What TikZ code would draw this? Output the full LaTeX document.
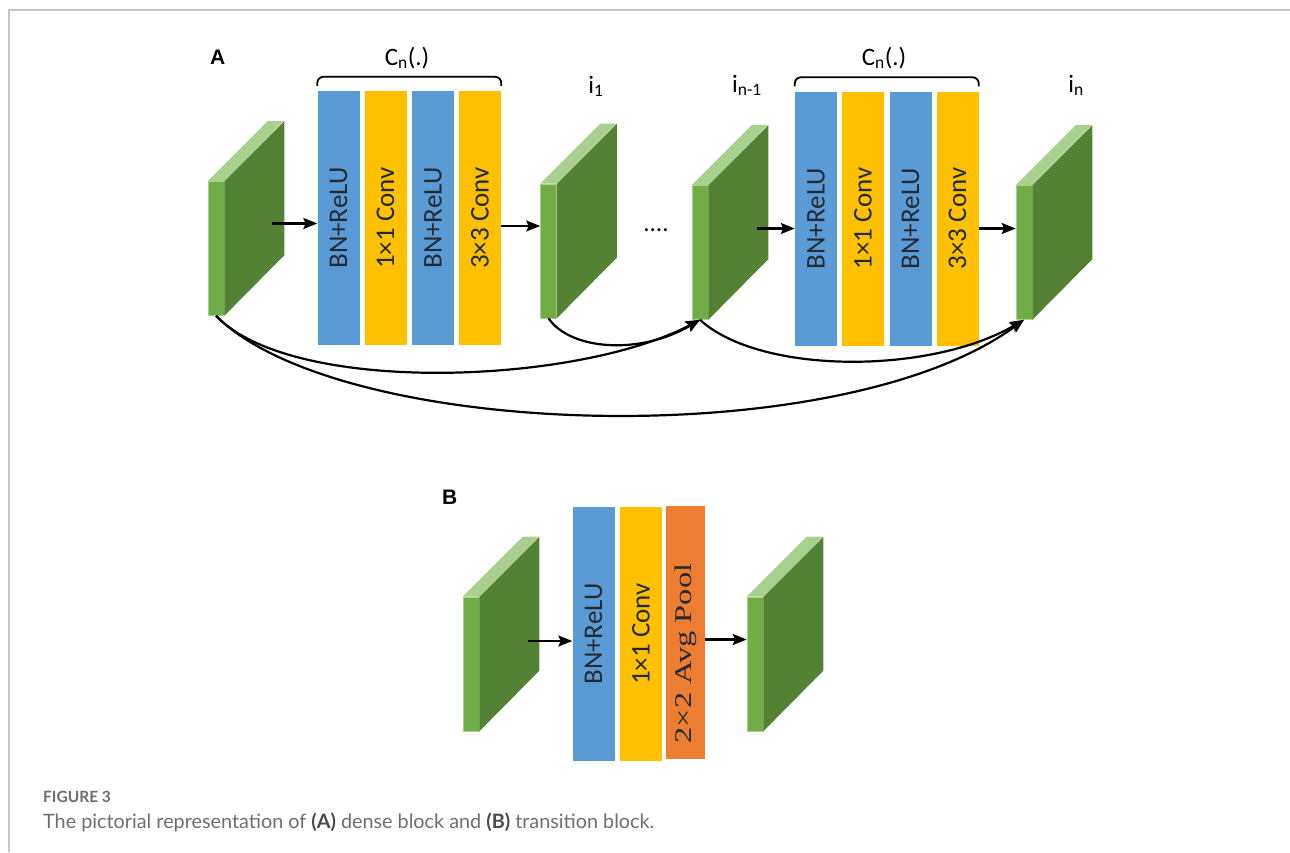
\documentclass[tikz,border=0pt]{standalone}
\usepackage{graphicx}
\usepackage{fontspec}
\setmainfont{Carlito}
\newfontfamily\capfont{Lato}
\newfontfamily\headfont{Liberation Sans}
\newfontfamily\poolfont{Liberation Serif}
\usetikzlibrary{calc,arrows.meta}

\definecolor{bnblue}{HTML}{5B9BD5}
\definecolor{convyellow}{HTML}{FFC000}
\definecolor{poolorange}{HTML}{ED7D31}
\definecolor{slabfront}{HTML}{70AD47}
\definecolor{slabside}{HTML}{548235}
\definecolor{slabtop}{HTML}{A9D18E}
\definecolor{layertext}{HTML}{222A35}
\definecolor{framegray}{HTML}{C4C4C4}
\definecolor{capgray}{HTML}{6E6E6E}
\definecolor{capdark}{HTML}{4A4A4A}

\begin{document}
\begin{tikzpicture}[x=1pt,y=-1pt]
\tikzstyle{FMAP} = [rectangle, minimum width=16pt, minimum height=134pt, inner sep=0pt, fill=slabfront, draw=slabtop, line width=0.6pt]
\tikzstyle{BN} = [rectangle, minimum width=42pt, minimum height=254pt, inner sep=0pt, fill=bnblue, text=layertext, font=\fontsize{27}{32}\selectfont]
\tikzstyle{CONV} = [rectangle, minimum width=42pt, minimum height=254pt, inner sep=0pt, fill=convyellow, text=layertext, font=\fontsize{27}{32}\selectfont]
\tikzstyle{POOL} = [rectangle, minimum width=39pt, minimum height=253pt, inner sep=0pt, fill=poolorange, text=layertext, font=\poolfont\fontsize{24}{30}\selectfont]
\tikzstyle{lbl} = [anchor=base, inner sep=0pt, font=\fontsize{25}{30}\selectfont]
\tikzstyle{arrow} = [line width=2.2pt, ->, >={Stealth[length=14pt,width=11pt,inset=2.5pt]}]
\tikzstyle{brace} = [line width=1.8pt, rounded corners=6pt]

    \useasboundingbox (0,0) rectangle (1290,852);
    \draw [framegray, line width=2pt] (9,852) -- (9,10) -- (1290,10);

    % feature maps
    \foreach \n/\x/\y in {f0/216/248.5, f1/548.5/251, f2/700/252.5, f3/1024/252.5, g0/471/664, g1/755/664}{
        \node (\n) at (\x,\y) [FMAP] {};
        \fill [slabside] (\n.north east) -- ++(60,-60) -- ++(0,134) -- (\n.south east) -- cycle;
        \fill [slabtop] (\n.north west) -- ++(60,-60) -- ++(16,0) -- (\n.north east) -- cycle;
    }

    % dense block layers
    \node (l11) at (338.5,218) [BN] {\rotatebox{90}{BN+ReLU}};
    \node (l12) at (385.5,218) [CONV] {\rotatebox{90}{1×1 Conv}};
    \node (l13) at (433,218) [BN] {\rotatebox{90}{BN+ReLU}};
    \node (l14) at (480,218) [CONV] {\rotatebox{90}{3×3 Conv}};

    \node (l21) at (816,218.5) [BN] {\rotatebox{90}{BN+ReLU}};
    \node (l22) at (863,218.5) [CONV] {\rotatebox{90}{1×1 Conv}};
    \node (l23) at (910.5,218.5) [BN] {\rotatebox{90}{BN+ReLU}};
    \node (l24) at (957.5,218.5) [CONV] {\rotatebox{90}{3×3 Conv}};

    % transition block layers
    \node (b1) at (593.5,634) [BN] {\rotatebox{90}{BN+ReLU}};
    \node (b2) at (641,634) [CONV] {\rotatebox{90}{1×1 Conv}};
    \node (b3) at (685.5,632.5) [POOL] {\rotatebox{90}{\scalebox{1.35}[1]{2×2 Avg Pool}\hspace*{42pt}}};

    % braces and labels
    \draw [brace] ($(l11.north west)+(0,-5)$) -- ++(0,-9) -| ($(l14.north east)+(0,-5)$);
    \draw [brace] ($(l21.north west)+(0,-5)$) -- ++(0,-9) -| ($(l24.north east)+(0,-5)$);
    \node (c1) at (407,65) [lbl] {C\textsubscript{n}(.)};
    \node (c2) at (884,65) [lbl] {C\textsubscript{n}(.)};
    \node (i1) at (596,93) [lbl] {i\textsubscript{1}};
    \node (i2) at (747,92) [lbl] {i\textsubscript{n-1}};
    \node (i3) at (1076,92) [lbl] {i\textsubscript{n}};
    \node (dots) at (656,231) [lbl] {....};

    \node (pa) at (210,64) [anchor=base west, inner sep=0pt, font=\headfont\bfseries\fontsize{21}{24}\selectfont] {A};
    \node (pb) at (442,504) [anchor=base west, inner sep=0pt, font=\headfont\bfseries\fontsize{21}{24}\selectfont] {B};

    % straight arrows
    \coordinate (o0) at ($(f0.east)+(48,-25)$);
    \coordinate (o2) at ($(f2.east)+(49,-24)$);
    \coordinate (o4) at ($(g0.east)+(49,-23)$);
    \draw [arrow] (o0) -- (o0 -| l11.west);
    \draw [arrow] ([yshift=-8pt]l14.east) -- ([yshift=-8pt]l14.east -| f1.west);
    \draw [arrow] (o2) -- (o2 -| l21.west);
    \draw [arrow] ([yshift=-10pt]l24.east) -- ([yshift=-10pt]l24.east -| f3.west);
    \draw [arrow] (o4) -- (o4 -| b1.west);
    \draw [arrow] ([yshift=-7pt]b3.east) -- ([yshift=-7pt]b3.east -| g1.west);

    % skip connections
    \draw [arrow] (f0.south) .. controls +(76,80) and +(-123,65) .. (f2.south);
    \draw [arrow] (f0.south) .. controls +(124,124) and +(-184,135) .. (f3.south);
    \draw [arrow] (f1.south) .. controls +(22,32) and +(-60,35.5) .. (f2.south);
    \draw [arrow] (f2.south) .. controls +(60,55) and +(-94,55) .. (f3.south);

    % caption
    \node (fig) at (43,802) [anchor=base west, inner sep=0pt, text=capgray, font=\capfont\bfseries\fontsize{15.5}{18}\selectfont] {FIGURE 3};
    \node (cap) at (43,828) [anchor=base west, inner sep=0pt, text=capgray, font=\capfont\fontsize{19.8}{23}\selectfont] {The pictorial representation of \textcolor{capdark}{\textbf{(A)}} dense block and \textcolor{capdark}{\textbf{(B)}} transition block.};
\end{tikzpicture}
\end{document}
